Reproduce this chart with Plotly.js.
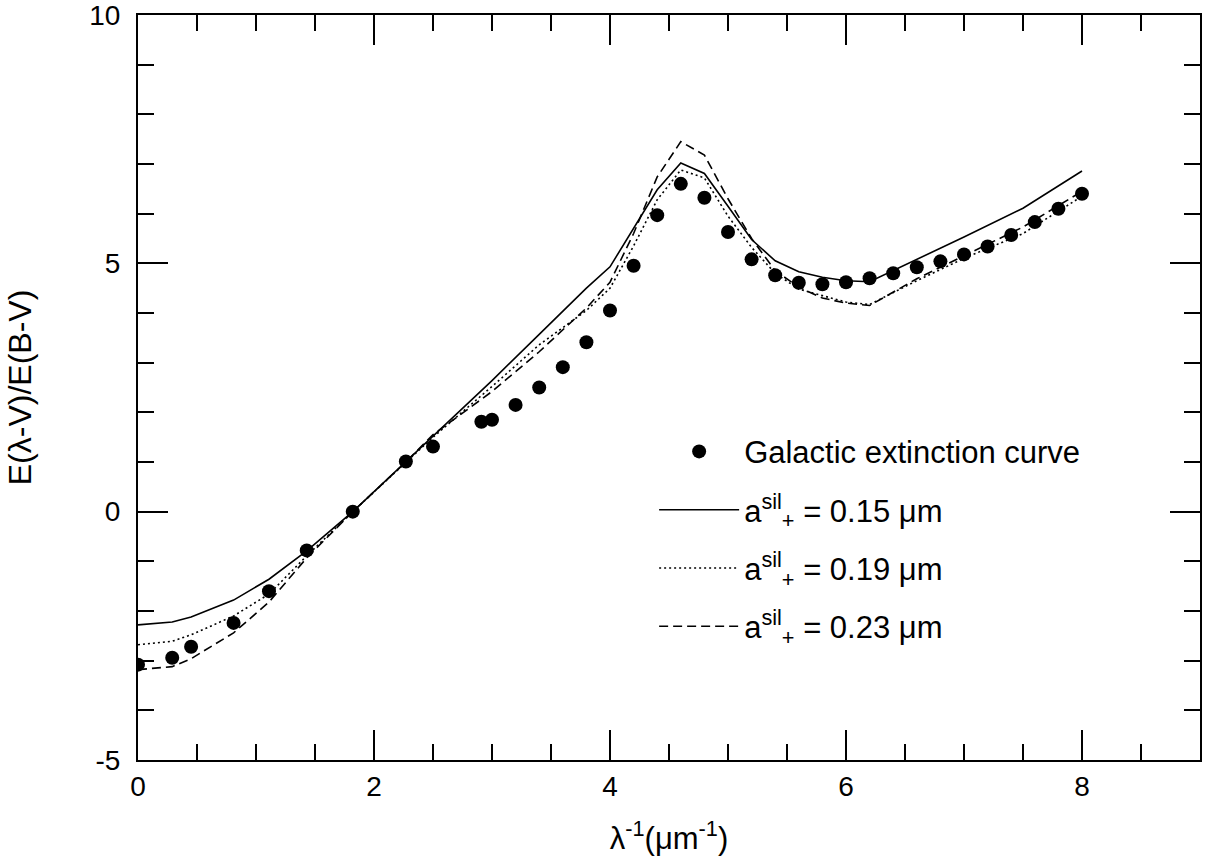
<!DOCTYPE html>
<html>
<head>
<meta charset="utf-8">
<script src="https://cdn.plot.ly/plotly-3.0.1.min.js"></script>
<style>html,body{margin:0;padding:0;background:#fff;}#chart{width:1208px;height:860px;}</style>
</head>
<body>
<div id="chart"></div>
<script>
// Observed Galactic extinction curve
const obsX = [0, 0.29, 0.45, 0.81, 1.11, 1.43, 1.82, 2.27, 2.5, 2.91, 3.0, 3.2, 3.4, 3.6, 3.8, 4.0, 4.2, 4.4, 4.6, 4.8, 5.0, 5.2, 5.4, 5.6, 5.8, 6.0, 6.2, 6.4, 6.6, 6.8, 7.0, 7.2, 7.4, 7.6, 7.8, 8.0];
const obsY = [-3.08, -2.94, -2.72, -2.24, -1.60, -0.78, 0, 1.01, 1.31, 1.81, 1.85, 2.15, 2.50, 2.91, 3.41, 4.05, 4.95, 5.97, 6.60, 6.32, 5.63, 5.08, 4.76, 4.61, 4.58, 4.62, 4.70, 4.80, 4.92, 5.04, 5.18, 5.34, 5.57, 5.83, 6.10, 6.40];

// Model curves
const modelX  = [0, 0.29, 0.45, 0.81, 1.11, 1.43, 1.82, 2.27, 2.5, 3.0, 3.4, 3.8, 4.0, 4.2, 4.4, 4.6, 4.8, 5.0, 5.2, 5.4, 5.6, 5.8, 6.0, 6.2, 6.6, 7.0, 7.5, 8.0];
const model15 = [-2.28, -2.22, -2.12, -1.78, -1.36, -0.79, 0, 1.0, 1.52, 2.64, 3.57, 4.50, 4.93, 5.70, 6.48, 7.02, 6.81, 6.15, 5.48, 5.05, 4.83, 4.72, 4.65, 4.63, 5.08, 5.53, 6.11, 6.86];
const model19 = [-2.68, -2.61, -2.48, -2.10, -1.66, -0.89, 0, 1.0, 1.50, 2.52, 3.36, 4.05, 4.50, 5.35, 6.28, 6.88, 6.72, 5.95, 5.32, 4.80, 4.48, 4.35, 4.22, 4.17, 4.65, 5.10, 5.60, 6.35];
const model23 = [-3.18, -3.12, -2.96, -2.44, -1.82, -0.93, 0, 1.0, 1.55, 2.42, 3.22, 4.10, 4.62, 5.60, 6.74, 7.45, 7.18, 6.30, 5.50, 4.85, 4.52, 4.30, 4.20, 4.15, 4.69, 5.15, 5.73, 6.45];

const seriesNames = ["Galactic extinction curve", "a<sup>sil</sup><sub>+</sub> = 0.15 μm", "a<sup>sil</sup><sub>+</sub> = 0.19 μm", "a<sup>sil</sup><sub>+</sub> = 0.23 μm"];

const xTickVals = [0, 2, 4, 6, 8];
const xTickText = ["0", "2", "4", "6", "8"];
const yTickVals = [-5, 0, 5, 10];
const yTickText = ["-5", "0", "5", "10"];

const FONT = "Liberation Sans, Arial, Helvetica, sans-serif";

const traces = [
  {x: obsX, y: obsY, mode: "markers", type: "scatter", name: seriesNames[0], legendgroup: "a",
   marker: {color: "#000", size: 14}},
  {x: modelX, y: model15, mode: "lines", type: "scatter", name: seriesNames[1], legendgroup: "b",
   line: {color: "#000", width: 1.6, dash: "solid"}},
  {x: modelX, y: model19, mode: "lines", type: "scatter", name: seriesNames[2], legendgroup: "c",
   line: {color: "#000", width: 1.6, dash: "2px,3px"}},
  {x: modelX, y: model23, mode: "lines", type: "scatter", name: seriesNames[3], legendgroup: "d",
   line: {color: "#000", width: 1.6, dash: "9px,5px"}}
];

const axisCommon = {
  showgrid: false, zeroline: false, showline: true, linecolor: "#000", linewidth: 2,
  mirror: "allticks", ticks: "inside", ticklen: 30, tickwidth: 2, tickcolor: "#000",
  tickfont: {family: FONT, size: 28, color: "#000"}, tickmode: "array",
  ticklabeloverflow: "allow",
  minor: {ticks: "inside", ticklen: 16, tickwidth: 2, tickcolor: "#000", showgrid: false}
};

const layout = {
  width: 1208, height: 860,
  margin: {l: 138, r: 8, t: 15, b: 100},
  paper_bgcolor: "#fff", plot_bgcolor: "#fff",
  font: {family: FONT, color: "#000"},
  showlegend: true,
  legend: {x: 0.486, y: 0.45, xanchor: "left", yanchor: "top", bgcolor: "rgba(0,0,0,0)",
           font: {family: FONT, size: 31, color: "#000"}, tracegroupgap: 15, itemwidth: 80},
  xaxis: Object.assign({}, axisCommon, {
    range: [0, 9], tickvals: xTickVals, ticktext: xTickText,
    minor: Object.assign({}, axisCommon.minor, {dtick: 0.5, tick0: 0}),
    title: {text: "λ<sup>-1</sup>(μm<sup>-1</sup>)", font: {family: FONT, size: 31, color: "#000"}, standoff: 27}
  }),
  yaxis: Object.assign({}, axisCommon, {
    range: [-5, 10], tickvals: yTickVals, ticktext: yTickText, ticklabelstandoff: 10,
    minor: Object.assign({}, axisCommon.minor, {dtick: 1, tick0: 0}),
    title: {text: "E(λ-V)/E(B-V)", font: {family: FONT, size: 32, color: "#000"}, standoff: 48}
  })
};

Plotly.newPlot("chart", traces, layout, {displayModeBar: false});
</script>
</body>
</html>
